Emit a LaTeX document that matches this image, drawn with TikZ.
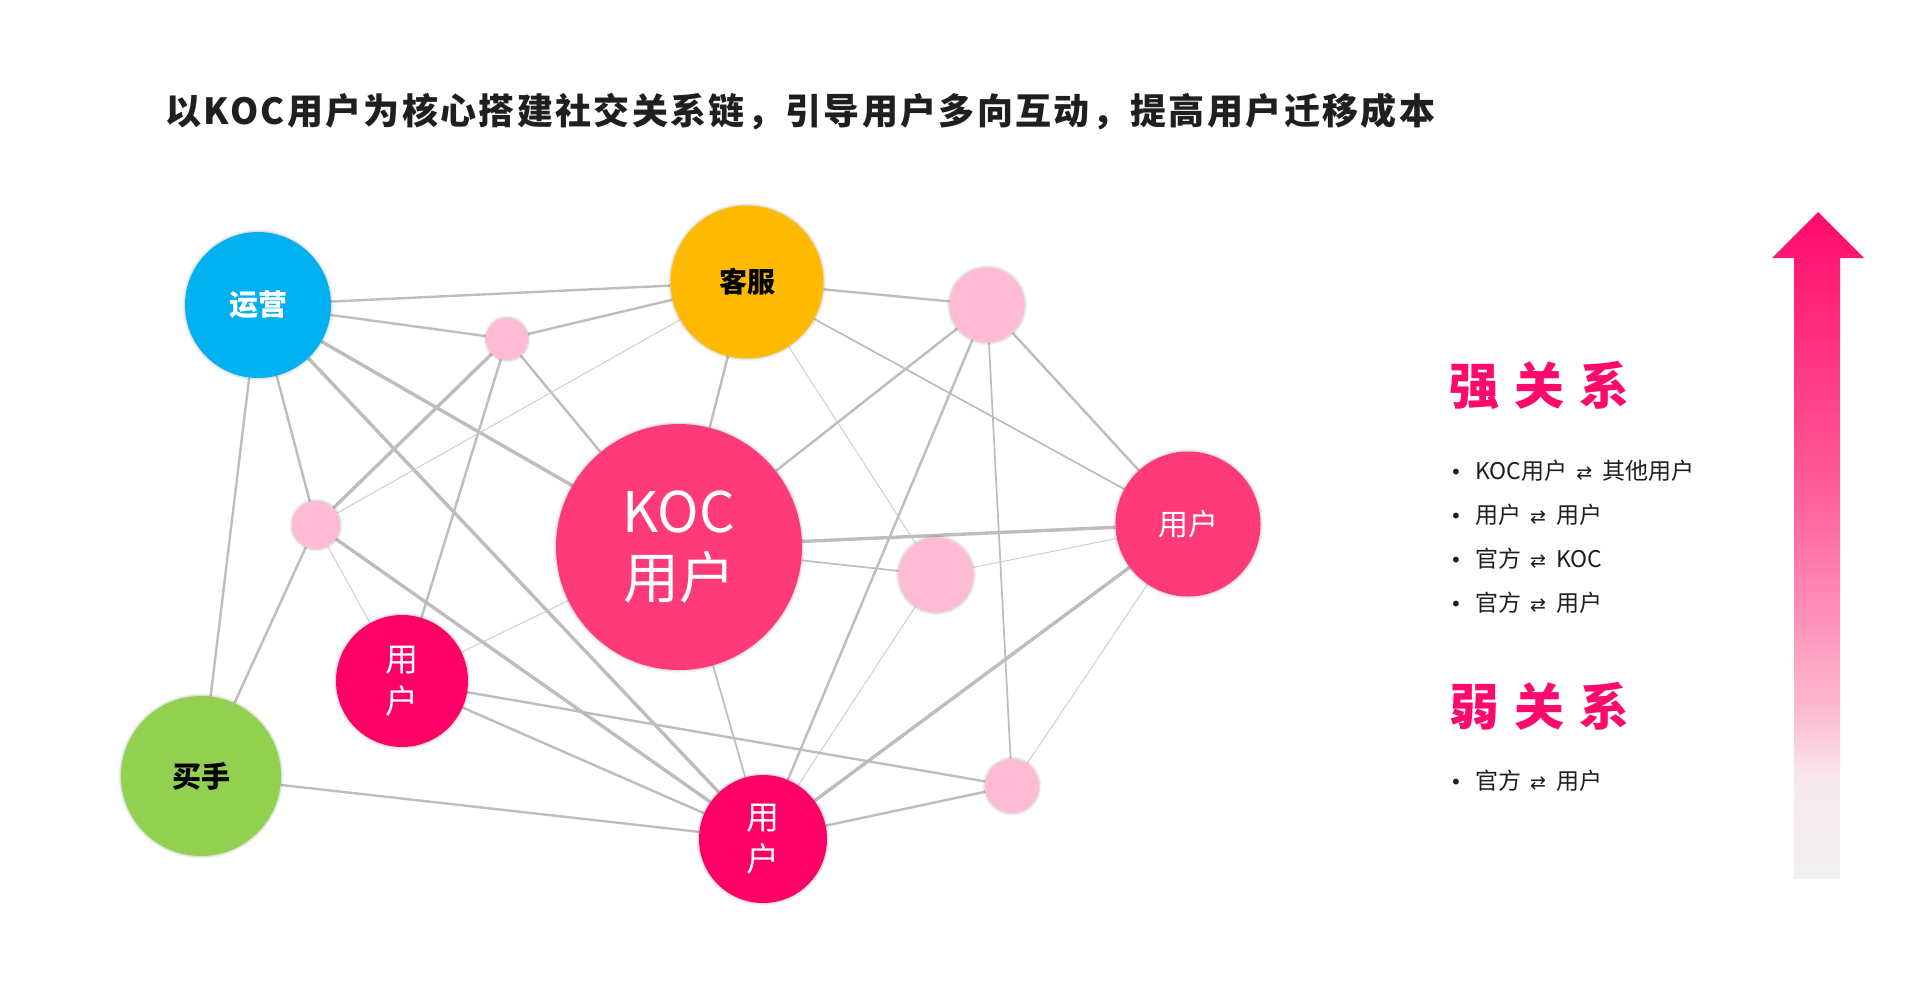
\documentclass[tikz,border=0pt]{standalone}
\usepackage{fontspec}
\newfontfamily\cjk{Noto Sans CJK SC}
\newfontfamily\sym{DejaVu Sans}
\definecolor{cyanY}{HTML}{00B0EF}
\definecolor{amberK}{HTML}{FDBA00}
\definecolor{pinkS}{HTML}{FFBBD3}
\definecolor{kocC}{HTML}{FF3A78}
\definecolor{hotC}{HTML}{FF0066}
\definecolor{greenC}{HTML}{92D050}
\definecolor{edgeC}{HTML}{BDBDBD}
\definecolor{edgeL}{HTML}{CFCFCF}
\definecolor{titleC}{HTML}{1F1F1F}
\definecolor{redT}{HTML}{FF0A6C}
\definecolor{gA}{HTML}{FF0A6C}
\definecolor{gB}{HTML}{FF5A95}
\definecolor{gC}{HTML}{FF8EB7}
\definecolor{gD}{HTML}{FDBBD2}
\definecolor{gE}{HTML}{F7E8EE}
\definecolor{gF}{HTML}{F0F0F0}
\pgfdeclareverticalshading{arrowsh}{100bp}{color(0bp)=(gF); color(25bp)=(gF); color(32.5bp)=(gE); color(37.5bp)=(gD); color(45bp)=(gC); color(55bp)=(gB); color(75bp)=(gA); color(100bp)=(gA)}
\pgfdeclarelayer{bg}
\pgfsetlayers{bg,main}
\tikzset{
  nd/.style={circle, inner sep=0pt, align=center,
    preaction={draw=black, draw opacity=0.05, line width=5pt},
    preaction={draw=black, draw opacity=0.07, line width=2.5pt}},
  eThick/.style={draw=edgeC, line width=3.4pt},
  eMid/.style={draw=edgeC, line width=2.4pt},
  eLow/.style={draw=edgeC, line width=1.7pt},
  eThin/.style={draw=edgeL, line width=1pt},
  bul/.style={anchor=west, inner sep=0pt, font=\cjk\fontsize{23}{26}\selectfont, text=titleC},
  head/.style={anchor=west, inner sep=0pt, font=\cjk\bfseries\fontsize{50}{56}\selectfont, text=redT},
}
\newcommand{\lr}{\hspace{9pt}{\sym\fontsize{19}{20}\selectfont ⇄}\hspace{10pt}}
\newcommand{\bl}{\makebox[25pt][l]{\raisebox{0pt}{\sym\fontsize{20}{20}\selectfont •}}}
\begin{document}
\begin{tikzpicture}[x=1pt,y=-1pt]
\useasboundingbox (0,0) rectangle (1914,980);
\begin{pgfonlayer}{bg}
\fill[white] (0,0) rectangle (1914,980);
\end{pgfonlayer}
% title
\node[anchor=west, inner sep=0pt, text=titleC, font=\cjk\bfseries\fontsize{36}{40}\selectfont\addfontfeature{LetterSpace=6.5}] (title) at (165,112) {以KOC用户为核心搭建社交关系链，引导用户多向互动，提高用户迁移成本};
% nodes
\node[nd, fill=cyanY, minimum size=146pt, text=white, font=\cjk\bfseries\fontsize{29}{34}\selectfont] (Y) at (258,305) {运营};
\node[nd, fill=amberK, minimum size=153pt, text=black, font=\cjk\bfseries\fontsize{28}{34}\selectfont] (K) at (747,282) {客服};
\node[nd, fill=pinkS, minimum size=42pt] (p1) at (507,339) {};
\node[nd, fill=pinkS, minimum size=75pt] (p2) at (987,305) {};
\node[nd, fill=pinkS, minimum size=48pt] (p3) at (316,525) {};
\node[nd, fill=kocC, minimum size=246pt, text=white, font=\cjk\fontsize{56}{66}\selectfont] (KOC) at (679,547) {KOC\\用户};
\node[nd, fill=pinkS, minimum size=75pt] (p4) at (936,575) {};
\node[nd, fill=kocC, minimum size=145pt, text=white, font=\cjk\fontsize{30}{34}\selectfont] (UR) at (1188,524) {用户};
\node[nd, fill=hotC, minimum size=132pt, text=white, font=\cjk\fontsize{33}{42}\selectfont] (UL) at (402,681) {用\\户};
\node[nd, fill=greenC, minimum size=160pt, text=black, font=\cjk\bfseries\fontsize{29}{34}\selectfont] (M) at (201,776) {买手};
\node[nd, fill=hotC, minimum size=128pt, text=white, font=\cjk\fontsize{33}{42}\selectfont] (UB) at (763,839) {用\\户};
\node[nd, fill=pinkS, minimum size=54pt] (p5) at (1012,786) {};
% edges
\begin{pgfonlayer}{bg}
\draw[eMid] (Y) -- (K);
\draw[eMid] (Y) -- (p1);
\draw[eMid] (p1) -- (K);
\draw[eThick] (Y) -- (KOC);
\draw[eThick] (Y) -- (UB);
\draw[eMid] (Y) -- (p3);
\draw[eMid] (Y) -- (M);
\draw[eThick] (p1) -- (p3);
\draw[eMid] (p1) -- (UL);
\draw[eMid] (p1) -- (KOC);
\draw[eThin] (K) -- (p3);
\draw[eMid] (K) -- (KOC);
\draw[eThin] (K) -- (p4);
\draw[eMid] (K) -- (p2);
\draw[eLow] (K) -- (UR);
\draw[eMid] (p2) -- (KOC);
\draw[eMid] (p2) -- (UB);
\draw[eLow] (p2) -- (p5);
\draw[eMid] (p2) -- (UR);
\draw[eThick] (KOC) -- (UR);
\draw[eLow] (KOC) -- (p4);
\draw[eThin] (p4) -- (UR);
\draw[eThin] (p4) -- (UB);
\draw[eThick] (UR) -- (UB);
\draw[eThin] (UR) -- (p5);
\draw[eLow] (KOC) -- (UB);
\draw[eThin] (UL) -- (KOC);
\draw[eThin] (p3) -- (UL);
\draw[eThick] (p3) -- (UB);
\draw[eMid] (p3) -- (M);
\draw[eMid] (M) -- (UB);
\draw[eMid] (UL) -- (p5);
\draw[eMid] (UL) -- (UB);
\draw[eMid] (UB) -- (p5);
\end{pgfonlayer}
% right side text
\node[head] (strong) at (1449,386) {强\hspace{15pt}关\hspace{15pt}系};
\node[bul] (b1) at (1450,471) {\bl KOC用户\lr 其他用户};
\node[bul] (b2) at (1450,515) {\bl 用户\lr 用户};
\node[bul] (b3) at (1450,559) {\bl 官方\lr KOC};
\node[bul] (b4) at (1450,603) {\bl 官方\lr 用户};
\node[head] (weak) at (1449,706) {弱\hspace{15pt}关\hspace{15pt}系};
\node[bul] (b5) at (1450,781) {\bl 官方\lr 用户};
% arrow
\shade[shading=arrowsh] (1818,212) -- (1864,258) -- (1840,258) -- (1840,879) -- (1794,879) -- (1794,258) -- (1772,258) -- cycle;
\end{tikzpicture}
\end{document}
